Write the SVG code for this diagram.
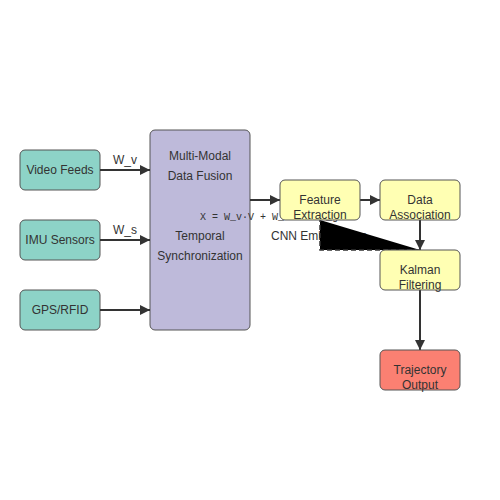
<svg xmlns="http://www.w3.org/2000/svg" width="500" height="500" viewBox="0 0 500 500">
<style>
.box{stroke:#555;stroke-width:1}
.in{fill:#8dd3c7}
.fu{fill:#bebada}
.pr{fill:#ffffb3}
.out{fill:#fb8072}
text{font-family:"Liberation Sans",Arial,sans-serif;font-size:12px;fill:#333}
.t{text-anchor:middle}
.mono{font-family:"Liberation Mono","DejaVu Sans Mono",monospace;font-size:10px;fill:#333}
.edge{stroke:#333;stroke-width:2;fill:none}
</style>
<defs>
<marker id="ah" markerUnits="userSpaceOnUse" markerWidth="10" markerHeight="10" refX="10" refY="5" orient="auto">
<path d="M0,0 L10,5 L0,10 z" fill="#333"/>
</marker>
</defs>
<rect width="500" height="500" fill="#fff"/>
<g id="video"><rect class="box in" x="20" y="150" width="80" height="40" rx="5"/><text class="t" x="60" y="174">Video Feeds</text></g>
<g id="imu"><rect class="box in" x="20" y="220" width="80" height="40" rx="5"/><text class="t" x="60" y="244">IMU Sensors</text></g>
<g id="gps"><rect class="box in" x="20" y="290" width="80" height="40" rx="5"/><text class="t" x="60" y="314">GPS/RFID</text></g>
<g id="fusion"><rect class="box fu" x="150" y="130" width="100" height="200" rx="5"/>
<text class="t" x="200" y="160">Multi-Modal</text><text class="t" x="200" y="180">Data Fusion</text>
<text class="t" x="200" y="240">Temporal</text><text class="t" x="200" y="260">Synchronization</text></g>
<g id="labels">
<text class="t" x="125" y="164">W_v</text>
<text class="t" x="125" y="234">W_s</text>
<text class="mono" x="200" y="220">X = W_v·V + W_s·S + W_g·G</text>
<text x="271" y="240">CNN Embeddings</text>
</g>
<g id="connectors">
<line class="edge" x1="100" y1="170" x2="150" y2="170" marker-end="url(#ah)"/>
<line class="edge" x1="100" y1="240" x2="150" y2="240" marker-end="url(#ah)"/>
<line class="edge" x1="100" y1="310" x2="150" y2="310" marker-end="url(#ah)"/>
<line class="edge" x1="250" y1="200" x2="280" y2="200" marker-end="url(#ah)"/>
<line class="edge" x1="360" y1="200" x2="380" y2="200" marker-end="url(#ah)"/>
<line class="edge" x1="420" y1="220" x2="420" y2="250" marker-end="url(#ah)"/>
<line class="edge" x1="420" y1="290" x2="420" y2="350" marker-end="url(#ah)"/>
<path d="M420,250 L320,250 L320,220" fill="#000" stroke="#333" stroke-width="1.5" stroke-dasharray="5,3"/>
</g>
<g id="feature"><rect class="box pr" x="280" y="180" width="80" height="40" rx="5"/><text class="t" x="320" y="204">Feature</text><text class="t" x="320" y="219">Extraction</text></g>
<g id="assoc"><rect class="box pr" x="380" y="180" width="80" height="40" rx="5"/><text class="t" x="420" y="204">Data</text><text class="t" x="420" y="219">Association</text></g>
<g id="kalman"><rect class="box pr" x="380" y="250" width="80" height="40" rx="5"/><text class="t" x="420" y="274">Kalman</text><text class="t" x="420" y="289">Filtering</text></g>
<g id="traj"><rect class="box out" x="380" y="350" width="80" height="40" rx="5"/><text class="t" x="420" y="374">Trajectory</text><text class="t" x="420" y="389">Output</text></g>
</svg>
